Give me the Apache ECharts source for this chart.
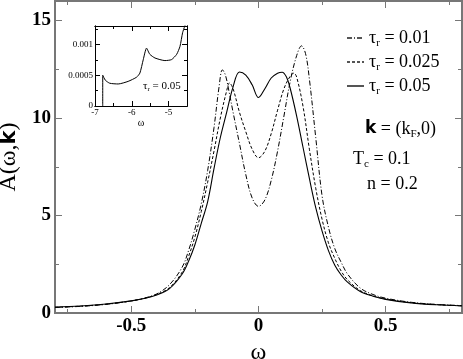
<!DOCTYPE html>
<html>
<head>
<meta charset="utf-8">
<script src="https://cdn.jsdelivr.net/npm/echarts@6/dist/echarts.min.js"></script>
<style>
  html, body { margin: 0; padding: 0; background: #fff; }
  #chart { width: 463px; height: 359px; }
</style>
</head>
<body>
<div id="chart"></div>
<script>
// main curves A(w,k)
var w01 = [-0.8,-0.7,-0.6,-0.5,-0.45,-0.4,-0.35,-0.3,-0.275,-0.25,-0.225,-0.2,-0.175,-0.155,-0.142,-0.13,-0.115,-0.1,-0.075,-0.05,-0.025,0,0.025,0.05,0.075,0.1,0.125,0.15,0.169,0.185,0.2,0.225,0.25,0.275,0.3,0.325,0.35,0.4,0.45,0.5,0.6,0.7,0.8];
var a01 = [0.28,0.34,0.44,0.62,0.76,0.98,1.45,2.35,3.2,4.3,5.6,7.3,9.5,11.6,12.47,12.2,11.3,10.3,8.7,7.1,5.9,5.47,5.8,6.8,8.3,10.1,11.9,13.2,13.7,13.3,12.0,9.0,6.0,4.4,3.3,2.6,2.0,1.28,0.95,0.76,0.55,0.44,0.38];

var w025 = [-0.8,-0.7,-0.6,-0.5,-0.45,-0.4,-0.35,-0.3,-0.275,-0.25,-0.225,-0.2,-0.175,-0.15,-0.125,-0.114,-0.1,-0.075,-0.05,-0.025,0,0.025,0.05,0.075,0.1,0.125,0.139,0.15,0.175,0.2,0.225,0.25,0.275,0.3,0.325,0.35,0.4,0.45,0.5,0.6,0.7,0.8];
var a025 = [0.29,0.35,0.45,0.62,0.75,0.95,1.3,2.1,2.9,3.9,5.2,6.7,8.3,10.0,11.4,11.8,11.5,10.3,9.3,8.4,7.96,8.3,9.2,10.4,11.5,12.15,12.3,12.1,10.6,8.4,6.4,4.8,3.6,2.8,2.15,1.7,1.15,0.88,0.72,0.53,0.43,0.37];

var w05 = [-0.8,-0.7,-0.6,-0.5,-0.45,-0.4,-0.35,-0.3,-0.275,-0.25,-0.225,-0.2,-0.175,-0.15,-0.125,-0.1,-0.075,-0.05,-0.025,0,0.025,0.05,0.075,0.093,0.11,0.125,0.15,0.175,0.2,0.225,0.25,0.275,0.3,0.325,0.35,0.4,0.45,0.5,0.6,0.7,0.8];
var a05 = [0.30,0.36,0.46,0.62,0.74,0.92,1.25,2.0,2.65,3.5,4.6,5.7,7.4,9.0,10.3,11.6,12.36,12.2,11.7,11.05,11.5,12.05,12.3,12.35,12.1,11.5,10.1,8.5,6.9,5.4,4.2,3.2,2.45,1.95,1.58,1.1,0.86,0.7,0.52,0.42,0.36];

// inset, tau_r = 0.05 far below the band
var wIn = [-6.79,-6.79,-6.72,-6.6,-6.37,-6.1,-5.87,-5.78,-5.69,-5.6,-5.51,-5.37,-5.1,-4.92,-4.78,-4.69,-4.62,-4.56,-4.53];
var aIn = [0,0.0005,0.00042,0.00037,0.000358,0.0004,0.000468,0.000535,0.00075,0.00094,0.00084,0.00078,0.000738,0.000754,0.00084,0.00097,0.00119,0.0013,0.00135];

var legendNames = ['0.01', '0.025', '0.05'];

var xMajor = [-0.5, 0, 0.5], xMinor = [-0.75, -0.25, 0.25, 0.75];
var yMajor = [0, 5, 10, 15], yMinor = [2.5, 7.5, 12.5];
var ixMajor = [-7, -6, -5], ixMinor = [-6.5, -5.5];
var iyMajor = [0, 0.0005, 0.001], iyMinor = [0.00025, 0.00075, 0.00125];

function pairs(xs, ys) {
    return xs.map(function (x, i) { return [x, ys[i]]; });
}

var frameMain = { color: '#777', width: 2 };
var frameIn = { color: '#000', width: 1 };

function axis(grid, pos, min, max, ticks, len, line, labels, label) {
    return {
        type: 'value', gridIndex: grid, position: pos, min: min, max: max,
        axisLine: { show: true, onZero: false, lineStyle: line },
        axisTick: { show: true, inside: true, length: len, customValues: ticks, lineStyle: { color: line.color, width: 1 } },
        axisLabel: labels ? Object.assign({ customValues: labels }, label) : { show: false },
        splitLine: { show: false }
    };
}

var mainLabel = { fontFamily: 'Liberation Serif', fontWeight: 'bold', fontSize: 19, color: '#000', margin: 4 };
var inLabel = { fontFamily: 'Liberation Serif', fontSize: 9, color: '#000', margin: 2, formatter: function (v) { return String(v); } };

var xAxes = [
    axis(0, 'bottom', -0.8, 0.8, xMajor, 7, frameMain, xMajor, mainLabel),
    axis(0, 'bottom', -0.8, 0.8, xMinor, 4, frameMain),
    axis(0, 'top', -0.8, 0.8, xMajor, 7, frameMain),
    axis(0, 'top', -0.8, 0.8, xMinor, 4, frameMain),
    axis(1, 'bottom', -7, -4.5, ixMajor, 5, frameIn, ixMajor, inLabel),
    axis(1, 'bottom', -7, -4.5, ixMinor, 3, frameIn),
    axis(1, 'top', -7, -4.5, ixMajor, 5, frameIn),
    axis(1, 'top', -7, -4.5, ixMinor, 3, frameIn)
];
xAxes[0].name = 'ω';
xAxes[0].nameLocation = 'middle';
xAxes[0].nameGap = 24;
xAxes[0].nameTextStyle = { fontFamily: 'Liberation Serif', fontSize: 24, color: '#000' };
xAxes[4].name = 'ω';
xAxes[4].nameLocation = 'middle';
xAxes[4].nameGap = 8;
xAxes[4].nameTextStyle = { fontFamily: 'Liberation Serif', fontSize: 10, color: '#000' };

var yAxes = [
    axis(0, 'left', 0, 16, yMajor, 7, frameMain, yMajor, mainLabel),
    axis(0, 'left', 0, 16, yMinor, 4, frameMain),
    axis(0, 'right', 0, 16, yMajor, 7, frameMain),
    axis(0, 'right', 0, 16, yMinor, 4, frameMain),
    axis(1, 'left', 0, 0.0013, iyMajor, 5, frameIn, iyMajor, inLabel),
    axis(1, 'left', 0, 0.0013, iyMinor, 3, frameIn),
    axis(1, 'right', 0, 0.0013, iyMajor, 5, frameIn),
    axis(1, 'right', 0, 0.0013, iyMinor, 3, frameIn)
];
yAxes[0].name = '{a|A(ω,}{b|k}{a|)}';
yAxes[0].nameLocation = 'middle';
yAxes[0].nameGap = 32;
yAxes[0].nameRotate = 90;
yAxes[0].nameTextStyle = {
    rich: {
        a: { fontFamily: 'Liberation Serif', fontSize: 24, color: '#000' },
        b: { fontFamily: 'DejaVu Sans', fontWeight: 'bold', fontSize: 21, color: '#000' }
    }
};

var tauRich = {
    t: { fontFamily: 'Liberation Serif', fontSize: 18, color: '#000', lineHeight: 22 },
    s: { fontFamily: 'Liberation Serif', fontSize: 11, color: '#000', lineHeight: 12, verticalAlign: 'bottom' }
};

function line(name, xs, ys, dash, width) {
    return {
        name: name, type: 'line', xAxisIndex: 0, yAxisIndex: 0,
        data: pairs(xs, ys), smooth: 0.35, showSymbol: false, symbol: 'none',
        itemStyle: { color: '#000' },
        lineStyle: { color: '#000', width: width, type: dash }, z: 3
    };
}

var chart = echarts.init(document.getElementById('chart'));
chart.setOption({
    animation: false,
    backgroundColor: '#fff',
    grid: [
        { left: 55, right: 1, top: 1, bottom: 46, outerBoundsMode: 'none' },
        { left: 95, top: 26, width: 92, height: 80, outerBoundsMode: 'none' }
    ],
    xAxis: xAxes,
    yAxis: yAxes,
    legend: {
        data: legendNames,
        orient: 'vertical', left: 341, top: 24,
        itemWidth: 17, itemHeight: 10, itemGap: 4,
        itemStyle: { opacity: 0 },
        lineStyle: { color: '#555' },
        formatter: function (n) { return '{t|τ}{s|r}{t| = ' + n + '}'; },
        textStyle: { rich: tauRich },
        selectedMode: false
    },
    graphic: [
        {
            type: 'text', left: 365, top: 120,
            style: {
                text: '{kb|k}{t| = (k}{s|F}{t|,0)}',
                rich: {
                    kb: { fontFamily: 'DejaVu Sans', fontWeight: 'bold', fontSize: 17, color: '#000', lineHeight: 22 },
                    t: tauRich.t, s: tauRich.s
                }
            }
        },
        { type: 'text', left: 353, top: 150, style: { text: '{t|T}{s|c}{t| = 0.1}', rich: tauRich } },
        { type: 'text', left: 367, top: 175, style: { text: '{t|n = 0.2}', rich: tauRich } },
        {
            type: 'text', left: 143, top: 81,
            style: {
                text: '{t|τ}{s|r}{t| = 0.05}',
                rich: {
                    t: { fontFamily: 'Liberation Serif', fontSize: 11, color: '#000', lineHeight: 13 },
                    s: { fontFamily: 'Liberation Serif', fontSize: 7, color: '#000', lineHeight: 7, verticalAlign: 'bottom' }
                }
            }
        }
    ],
    series: [
        line('0.01', w01, a01, [5, 2, 1, 2], 1),
        line('0.025', w025, a025, [3, 2], 1),
        line('0.05', w05, a05, 'solid', 1.1),
        {
            name: 'inset', type: 'line', xAxisIndex: 4, yAxisIndex: 4,
            data: pairs(wIn, aIn), showSymbol: false, symbol: 'none', smooth: 0.2,
            lineStyle: { color: '#000', width: 1 }
        }
    ]
});
</script>
</body>
</html>
